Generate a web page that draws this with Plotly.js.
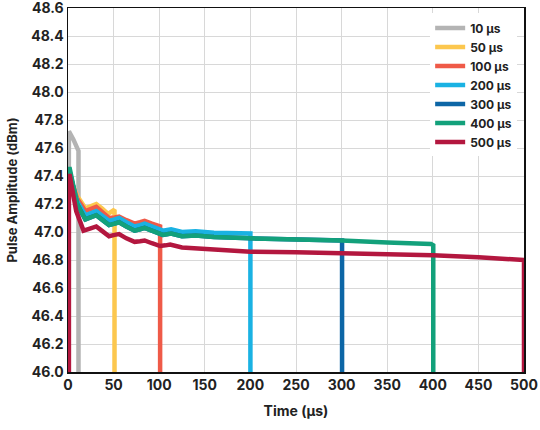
<!DOCTYPE html>
<html>
<head>
<meta charset="utf-8">
<script src="https://cdn.plot.ly/plotly-3.0.1.min.js"></script>
<style>
  html, body { margin: 0; padding: 0; background: #fff; }
  #chart { width: 540px; height: 430px; }
</style>
</head>
<body>
<div id="chart"></div>
<script>
// pulse widths and colours for the legend
const names = ["10 µs", "50 µs", "100 µs", "200 µs", "300 µs", "400 µs", "500 µs"];
const colors = ["#b4b4b4", "#fcc74e", "#ef5a48", "#1ab2e3", "#0d66a6", "#13a17b", "#b3173f"];

// time (µs) and amplitude (dBm), one pair per pulse
const t10 = [0.5, 0.5, 1, 6, 11.5, 11.5];
const a10 = [45.8, 47.70, 47.72, 47.66, 47.58, 45.8];

const t50 = [0.5, 0.5, 2, 10, 19, 25, 31, 37, 44, 51, 51];
const a50 = [45.8, 47.38, 47.38, 47.26, 47.17, 47.185, 47.20, 47.17, 47.13, 47.16, 45.8];

const t100 = [0.5, 0.5, 2, 10, 19, 25, 31, 38, 45, 51, 56, 64, 73, 79, 84, 92, 101, 101];
const a100 = [45.8, 47.40, 47.40, 47.24, 47.15, 47.165, 47.18, 47.14, 47.10, 47.105, 47.11, 47.085, 47.06, 47.07, 47.08, 47.06, 47.04, 45.8];

const t200 = [0.5, 0.5, 2, 10, 19, 25, 31, 38, 45, 51, 56, 64, 73, 79, 84, 94, 104, 113, 125, 140, 160, 200, 200];
const a200 = [45.8, 47.42, 47.42, 47.22, 47.12, 47.135, 47.15, 47.115, 47.08, 47.09, 47.10, 47.07, 47.04, 47.05, 47.06, 47.035, 47.01, 47.02, 47.00, 47.005, 46.995, 46.99, 45.8];

const t300 = [0.5, 0.5, 2, 10, 19, 25, 31, 38, 45, 51, 56, 64, 73, 79, 84, 94, 104, 113, 125, 140, 160, 200, 250, 300.5, 300.5];
const a300 = [45.8, 47.43, 47.43, 47.20, 47.09, 47.105, 47.12, 47.085, 47.05, 47.06, 47.07, 47.04, 47.01, 47.02, 47.03, 47.005, 46.98, 46.99, 46.97, 46.975, 46.965, 46.955, 46.95, 46.94, 45.8];

const t400 = [0.5, 0.5, 2, 10, 19, 25, 31, 38, 45, 51, 56, 64, 73, 79, 84, 94, 104, 113, 125, 140, 160, 200, 250, 300, 350, 398, 400.5, 400.5];
const a400 = [45.8, 47.45, 47.45, 47.20, 47.09, 47.105, 47.12, 47.085, 47.05, 47.06, 47.07, 47.04, 47.01, 47.02, 47.03, 47.005, 46.98, 46.99, 46.97, 46.975, 46.965, 46.955, 46.95, 46.94, 46.925, 46.915, 46.905, 45.8];

const t500 = [1, 1, 2, 9, 17, 24, 31, 38, 45, 51, 56, 64, 73, 79, 84, 92, 101, 107, 112, 125, 140, 160, 200, 250, 300, 350, 400, 450, 500, 500];
const a500 = [45.8, 47.40, 47.40, 47.15, 47.01, 47.025, 47.04, 47.005, 46.97, 46.98, 46.985, 46.955, 46.93, 46.935, 46.94, 46.92, 46.90, 46.905, 46.91, 46.89, 46.885, 46.875, 46.86, 46.855, 46.85, 46.845, 46.835, 46.82, 46.80, 45.8];

const xs = [t10, t50, t100, t200, t300, t400, t500];
const ys = [a10, a50, a100, a200, a300, a400, a500];

const traces = [];
for (let i = 0; i < names.length; i++) {
  traces.push({
    x: xs[i],
    y: ys[i],
    name: names[i],
    mode: "lines",
    line: { color: colors[i], width: 4.5 }
  });
}

const tickFont = { family: "Inter, sans-serif", size: 14, color: "#222", weight: 700 };

const layout = {
  width: 540,
  height: 430,
  margin: { l: 68, r: 16, t: 8, b: 58 },
  paper_bgcolor: "#fff",
  plot_bgcolor: "#fff",
  showlegend: true,
  legend: {
    x: 0.985, xanchor: "right",
    y: 0.985, yanchor: "top",
    bgcolor: "#fff",
    font: { family: "Inter, sans-serif", size: 12, color: "#222", weight: 700 },
    tracegroupgap: 0
  },
  xaxis: {
    range: [0, 500],
    tickvals: [0, 50, 100, 150, 200, 250, 300, 350, 400, 450, 500],
    tickfont: tickFont,
    ticklabeloverflow: "allow",
    showgrid: true,
    gridcolor: "#d8d8d8",
    gridwidth: 1,
    zeroline: false,
    showline: true,
    linecolor: "#111",
    linewidth: 1.5,
    mirror: true,
    ticks: "",
    title: { text: "Time (µs)", font: tickFont, standoff: 14 }
  },
  yaxis: {
    range: [46.0, 48.601],
    tickvals: [46.0, 46.2, 46.4, 46.6, 46.8, 47.0, 47.2, 47.4, 47.6, 47.8, 48.0, 48.2, 48.4, 48.6],
    tickformat: ".1f",
    tickfont: tickFont,
    ticklabeloverflow: "allow",
    showgrid: true,
    gridcolor: "#d8d8d8",
    gridwidth: 1,
    zeroline: false,
    showline: true,
    linecolor: "#111",
    linewidth: 1.5,
    mirror: true,
    ticks: "",
    title: { text: "Pulse Amplitude (dBm)", font: { family: "Inter, sans-serif", size: 13, color: "#222", weight: 700 }, standoff: 10 }
  }
};

Plotly.newPlot("chart", traces, layout, { displayModeBar: false, staticPlot: true });
</script>
</body>
</html>
